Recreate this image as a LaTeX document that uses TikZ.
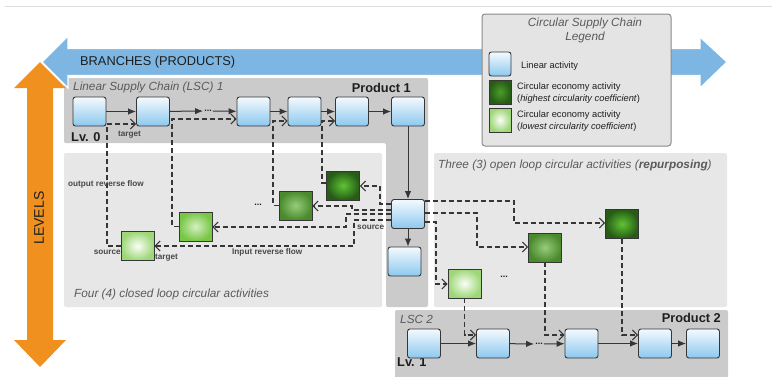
\documentclass[tikz,border=0pt]{standalone}
\usepackage{fontspec}
\setmainfont{Liberation Sans}
\usetikzlibrary{arrows.meta,calc}
\definecolor{lscgray}{HTML}{CBCBCB}
\definecolor{panelgray}{HTML}{E7E7E7}
\definecolor{legfill}{HTML}{E4E4E4}
\definecolor{legedge}{HTML}{8A8A8A}
\definecolor{blueA}{HTML}{7DB6E2}
\definecolor{orangeA}{HTML}{F0901E}
\definecolor{linetop}{HTML}{F4FAFE}
\definecolor{linebot}{HTML}{8CC8EF}
\definecolor{edgec}{HTML}{363636}
\definecolor{txtgray}{HTML}{5A5A5A}
\definecolor{txtdark}{HTML}{1E1E1E}
\definecolor{gDarkIn}{HTML}{5FC434}
\definecolor{gDarkOut}{HTML}{265C16}
\definecolor{gMedIn}{HTML}{98CC7A}
\definecolor{gMedOut}{HTML}{4A8A2E}
\definecolor{gBrIn}{HTML}{D4F0C2}
\definecolor{gBrOut}{HTML}{78C646}
\definecolor{gLtIn}{HTML}{FBFEF8}
\definecolor{gLtOut}{HTML}{9DD777}
\definecolor{toprule}{HTML}{DDDDDD}
\begin{document}
\begin{tikzpicture}[x=1pt,y=-1pt,
  linact/.style={draw=edgec, line width=0.9pt, rounded corners=2.5pt, top color=linetop, bottom color=linebot, minimum width=33pt, minimum height=29pt, inner sep=0pt},
  ceact/.style={draw=edgec, line width=0.9pt, minimum width=33pt, minimum height=29pt, inner sep=0pt},
  gdark/.style={ceact, inner color=gDarkIn, outer color=gDarkOut},
  gmed/.style={ceact, inner color=gMedIn, outer color=gMedOut},
  gbright/.style={ceact, inner color=gBrIn, outer color=gBrOut},
  glight/.style={ceact, inner color=gLtIn, outer color=gLtOut},
  legbox/.style={minimum width=22pt, minimum height=24pt},
  flow/.style={draw=edgec, line width=1pt, -{Latex[length=8pt,width=6.5pt]}},
  rev/.style={draw=edgec, line width=1.1pt, dash pattern=on 5pt off 3pt, -{Straight Barb[length=5pt,width=10pt,line width=1pt]}},
  paneltitle/.style={font=\fontsize{11.8}{14}\selectfont\itshape, text=txtgray, inner sep=0pt},
  prodlabel/.style={font=\fontsize{12.8}{15}\selectfont\bfseries, text=txtdark, inner sep=0pt},
  smalllabel/.style={font=\fontsize{8.2}{9}\selectfont\bfseries, text=txtgray!80!black, inner sep=0pt},
  legtext/.style={font=\fontsize{9.3}{12}\selectfont, text=txtdark, inner sep=0pt, anchor=west, align=left},
  dots/.style={font=\fontsize{9}{10}\selectfont\bfseries, text=txtdark, inner sep=1pt},
]
\useasboundingbox (0,0) rectangle (772,376);
\fill[white] (0,0) rectangle (772,376);
% top rule
\draw[toprule, line width=0.8pt] (5,6) -- (772,6);

% panels
\fill[lscgray, rounded corners=2pt] (64,78) -- (428,78) -- (428,307) -- (386,307) -- (386,143) -- (64,143) -- cycle;
\fill[panelgray, rounded corners=2pt] (64,153) rectangle (382,307);
\fill[panelgray, rounded corners=2pt] (434,153) rectangle (727,307);
\fill[lscgray, rounded corners=2pt] (395,310) rectangle (728,380);

% orange LEVELS arrow
\fill[orangeA] (40,62) -- (66,88) -- (53,88) -- (53,340) -- (66,340) -- (40,367) -- (14,340) -- (27,340) -- (27,88) -- (14,88) -- cycle;
\node[rotate=90, font=\fontsize{14}{16}\selectfont, text=txtdark] (levels) at (39,218) {LEVELS};

% blue BRANCHES arrow
\filldraw[fill=blueA, draw=white, line width=1.2pt] (42,62) -- (68,36) -- (68,48.5) -- (700,48.5) -- (700,37) -- (727,62) -- (700,88) -- (700,75.5) -- (68,75.5) -- (68,88) -- cycle;
\node[font=\fontsize{12.8}{15}\selectfont, text=txtdark, anchor=west, inner sep=0pt] (branches) at (80,62) {BRANCHES (PRODUCTS)};

% legend
\filldraw[fill=legfill, draw=legedge, line width=1pt, rounded corners=3pt] (482,14) rectangle (671,146);
\node[font=\fontsize{11.8}{14}\selectfont\itshape, text=txtgray, align=center, inner sep=0pt] (legtitle) at (585,30) {Circular Supply Chain\\Legend};
\node[linact, legbox] (leglin) at (500,64) {};
\node[gdark, legbox, inner color=gDarkIn!80!black] (legdark) at (500,92) {};
\node[glight, legbox] (leglight) at (500,120) {};
\node[legtext] (t1) at (521,66) {Linear activity};
\node[legtext] (t2) at (517,93) {Circular economy activity\\(\textit{highest circularity coefficient})};
\node[legtext] (t3) at (517,121) {Circular economy activity\\(\textit{lowest circularity coefficient})};

% LSC1 labels
\node[paneltitle, anchor=west] (lsc1) at (73,87) {Linear Supply Chain (LSC) 1};
\node[prodlabel, anchor=east] (p1) at (411,88) {Product 1};
\node[prodlabel, anchor=west] (lv0) at (71,137) {Lv. 0};

% LSC1 nodes
\node[linact] (n1) at (89.5,111.5) {};
\node[linact] (n2) at (153,111.5) {};
\node[linact] (n3) at (253.5,111.5) {};
\node[linact] (n4) at (304.5,111.5) {};
\node[linact] (n5) at (352,111.5) {};
\node[linact] (n6) at (408,111.5) {};
\node[linact] (n7) at (408,214) {};
\node[linact] (n8) at (404.5,261.5) {};
\node[dots] (d1) at (208,111) {...};

\draw[flow] (n1) -- (n2);
\draw[flow] (n2) -- (d1);
\draw[flow] (d1) -- (n3);
\draw[flow] (n3) -- (n4);
\draw[flow] (n4) -- (n5);
\draw[flow] (n5) -- (n6);
\draw[flow] (n6) -- (n7);
\draw[flow] (n7.south) -- (n7.south |- n8.north);

% closed loop panel
\node[paneltitle, anchor=west] (closed) at (74,294) {Four (4) closed loop circular activities};
\node[glight] (c1) at (137.5,246) {};
\node[gbright] (c2) at (195.5,226.5) {};
\node[gmed] (c3) at (295.5,205.5) {};
\node[gdark] (c4) at (343,185.5) {};
\node[dots] (d2) at (258,205) {...};

% output reverse flows
\draw[rev] (c1.west) -| (107,124) -- (n2.west |- 0,124);
\draw[rev] (c2.west) -| (172,119) -- (n3.west |- 0,119);
\draw[rev] (c3.west) -| (273,121) -- (n4.west |- 0,121);
\draw[rev] (c4.west |- 0,183) -| (322,121) -- (n5.west |- 0,121);

% input reverse flows
\draw[rev] (n7.west |- 0,204) -| (380,186) -- (c4.east |- 0,186);
\draw[rev] (n7.west |- 0,210) -| (352,206) -- (c3.east |- 0,206);
\draw[rev] (n7.west |- 0,214) -| (346,227) -- (c2.east |- 0,227);
\draw[rev] (n7.west |- 0,220) -| (354,246) -- (c1.east |- 0,246);

\node[smalllabel, anchor=west] (ol) at (68,184) {output reverse flow};
\node[smalllabel, anchor=west] (tg1) at (118,135) {target};
\node[smalllabel, anchor=east] (src1) at (121,252) {source};
\node[smalllabel, anchor=west] (tg2) at (155,258) {target};
\node[smalllabel, anchor=west] (il) at (232,252) {Input reverse flow};
\node[smalllabel, anchor=west] (src2) at (357,227) {source};

% open loop panel
\node[paneltitle, anchor=west] (open) at (438,165) {Three (3) open loop circular activities (\textbf{repurposing})};
\node[gdark] (o1) at (622,224) {};
\node[gmed] (o2) at (545,247.5) {};
\node[glight] (o3) at (464.5,283.5) {};
\node[dots] (d3) at (504,277) {...};

\draw[rev] (n7.east |- 0,201) -| (514,223) -- (o1.west |- 0,223);
\draw[rev] (n7.east |- 0,213) -| (477,247) -- (o2.west |- 0,247);
\draw[rev] (n7.east |- 0,222) -| (436,284) -- (o3.west |- 0,284);

% LSC2
\node[paneltitle, anchor=west] (lsc2) at (400,319) {LSC 2};
\node[prodlabel, anchor=east] (p2) at (721,318) {Product 2};
\node[prodlabel, anchor=west] (lv1) at (397,362) {Lv. 1};
\node[linact] (m1) at (424,343.5) {};
\node[linact] (m2) at (493,343.5) {};
\node[linact] (m3) at (581.5,343.5) {};
\node[linact] (m4) at (655,343.5) {};
\node[linact] (m5) at (703,343.5) {};
\node[dots] (d4) at (539,344) {...};

\draw[flow] (m1) -- (m2);
\draw[flow] (m2) -- (d4);
\draw[flow] (d4) -- (m3);
\draw[flow] (m3) -- (m4);
\draw[flow] (m4) -- (m5);

\draw[rev] (o3.south) |- (m2.west |- 0,335);
\draw[rev] (o2.south) |- (m3.west |- 0,335);
\draw[rev] (o1.south) |- (m4.west |- 0,335);
\end{tikzpicture}
\end{document}
